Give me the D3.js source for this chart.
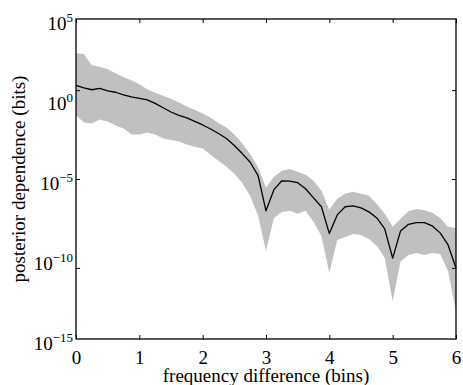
<!DOCTYPE html>
<html>
<head>
<meta charset="utf-8">
<script src="https://cdn.jsdelivr.net/npm/d3@7/dist/d3.min.js"></script>
<style>
  body { margin: 0; background: #fff; }
  svg { display: block; }
  text { font-family: "Liberation Serif", "Times New Roman", serif; fill: #000; }
</style>
</head>
<body>
<div id="chart"></div>
<script>
// frequency difference (bins)
const freqDiff = [
  0, 0.125, 0.25, 0.375, 0.5, 0.625, 0.75, 0.875,
  1, 1.125, 1.25, 1.375, 1.5, 1.625, 1.75, 1.875,
  2, 2.125, 2.25, 2.375, 2.5, 2.625, 2.75, 2.875,
  3, 3.125, 3.25, 3.375, 3.5, 3.625, 3.75, 3.875,
  4, 4.125, 4.25, 4.375, 4.5, 4.625, 4.75, 4.875,
  5, 5.125, 5.25, 5.375, 5.5, 5.625, 5.75, 5.875, 6
];

// log10 of posterior dependence (bits): median, upper and lower band edge
const medianLog10 = [
  0.27, 0.13, 0.02, 0.10, -0.04, -0.12, -0.27, -0.38,
  -0.46, -0.55, -0.75, -0.99, -1.23, -1.42, -1.56, -1.76,
  -1.96, -2.19, -2.44, -2.72, -3.12, -3.57, -4.06, -4.81,
  -6.79, -5.60, -5.10, -5.12, -5.21, -5.55, -6.06, -6.56,
  -8.07, -7.02, -6.56, -6.51, -6.62, -6.85, -7.19, -7.81,
  -9.45, -7.92, -7.55, -7.45, -7.45, -7.64, -8.03, -8.71, -10.01
];
const upperLog10 = [
  2.08, 2.02, 1.40, 1.32, 1.18, 0.95, 0.72, 0.55,
  0.33, 0.05, -0.15, -0.32, -0.49, -0.69, -0.92, -1.11,
  -1.31, -1.56, -1.85, -2.10, -2.50, -3.01, -3.60, -4.36,
  -5.49, -4.87, -4.53, -4.44, -4.59, -4.76, -5.10, -5.66,
  -6.73, -6.11, -5.83, -5.72, -5.83, -5.94, -6.40, -6.96,
  -7.69, -7.24, -6.82, -6.69, -6.76, -6.90, -7.19, -7.69, -7.75
];
const lowerLog10 = [
  -1.42, -1.82, -1.88, -1.65, -1.76, -1.99, -2.16, -2.50,
  -2.50, -2.38, -2.50, -2.72, -2.81, -2.89, -3.06, -3.18,
  -3.29, -3.63, -3.97, -4.31, -4.70, -5.21, -5.94, -7.07,
  -9.05, -7.19, -6.85, -6.79, -6.96, -6.79, -7.41, -8.20,
  -10.29, -8.43, -8.26, -8.09, -8.15, -8.37, -8.77, -9.45,
  -11.88, -9.62, -9.28, -9.16, -9.28, -9.16, -9.22, -10.18, -12.44
];

const xTicks = [0, 1, 2, 3, 4, 5, 6];
const yTicks = [1e0, 1e-5, 1e-10];
const yLabelExps = [5, 0, -5, -10, -15];

const width = 463;
const height = 385;
const margin = { top: 19, right: 7, bottom: 46, left: 76 };
const innerWidth = width - margin.left - margin.right;
const innerHeight = height - margin.top - margin.bottom;
const serif = '"Liberation Serif", "Times New Roman", serif';

const data = freqDiff.map((f, i) => ({
  f,
  mid: Math.pow(10, medianLog10[i]),
  hi: Math.pow(10, upperLog10[i]),
  lo: Math.pow(10, lowerLog10[i])
}));

const svg = d3.select('#chart')
  .append('svg')
  .attr('width', width)
  .attr('height', height);

const g = svg.append('g')
  .attr('transform', `translate(${margin.left},${margin.top})`);

const x = d3.scaleLinear().domain([0, 6]).range([0, innerWidth]);
const y = d3.scaleLog().domain([1e-14, 1e4]).range([innerHeight, 0]);
// the tick labels in the figure sit on an evenly spread 1e-15..1e5 grid
const yLabel = d3.scaleLog().domain([1e-15, 1e5]).range([innerHeight, 0]);

g.append('path')
  .datum(data)
  .attr('fill', '#c0c0c0')
  .attr('d', d3.area()
    .x(d => x(d.f))
    .y0(d => y(d.lo))
    .y1(d => y(d.hi)));

g.append('path')
  .datum(data)
  .attr('fill', 'none')
  .attr('stroke', '#000')
  .attr('stroke-width', 1.3)
  .attr('stroke-linejoin', 'round')
  .attr('d', d3.line()
    .x(d => x(d.f))
    .y(d => y(d.mid)));

// inward ticks on all four sides
const styleAxis = sel => {
  sel.select('.domain').remove();
  sel.selectAll('.tick line').attr('stroke', '#000').attr('stroke-width', 1);
};

g.append('g')
  .attr('transform', `translate(0,${innerHeight})`)
  .call(d3.axisBottom(x).tickValues(xTicks).tickFormat(d3.format('d'))
    .tickSizeInner(-4).tickSizeOuter(0).tickPadding(12))
  .call(styleAxis)
  .call(s => s.selectAll('text').attr('font-size', 19).style('font-family', serif));

g.append('g')
  .call(d3.axisTop(x).tickValues(xTicks).tickSizeInner(-4).tickSizeOuter(0).tickFormat(''))
  .call(styleAxis);

g.append('g')
  .call(d3.axisLeft(y).tickValues(yTicks).tickSizeInner(-4).tickSizeOuter(0).tickFormat(''))
  .call(styleAxis);

g.append('g')
  .attr('transform', `translate(${innerWidth},0)`)
  .call(d3.axisRight(y).tickValues(yTicks).tickSizeInner(-4).tickSizeOuter(0).tickFormat(''))
  .call(styleAxis);

g.append('rect')
  .attr('width', innerWidth)
  .attr('height', innerHeight)
  .attr('fill', 'none')
  .attr('stroke', '#000')
  .attr('stroke-width', 1.3);

const yLab = g.append('g').selectAll('text')
  .data(yLabelExps)
  .enter()
  .append('text')
  .attr('x', -3)
  .attr('y', d => yLabel(Math.pow(10, d)) + 11)
  .attr('text-anchor', 'end')
  .attr('font-size', 19)
  .style('font-family', serif);

yLab.append('tspan').text('10');
yLab.append('tspan')
  .attr('dy', -8)
  .attr('font-size', 13)
  .text(d => String(d).replace('-', '\u2212'));

svg.append('text')
  .attr('x', margin.left + innerWidth / 2)
  .attr('y', 382)
  .attr('text-anchor', 'middle')
  .attr('font-size', 19)
  .style('font-family', serif)
  .text('frequency difference (bins)');

svg.append('text')
  .attr('transform', `translate(25,${margin.top + innerHeight / 2}) rotate(-90)`)
  .attr('text-anchor', 'middle')
  .attr('font-size', 19)
  .style('font-family', serif)
  .text('posterior dependence (bits)');
</script>
</body>
</html>
